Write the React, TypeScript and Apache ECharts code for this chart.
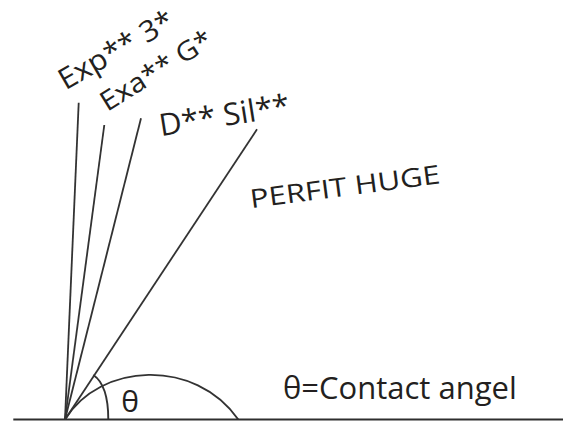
import React, { useEffect, useRef } from "react";
import * as echarts from "echarts";

// Coordinates are in a frame whose origin is the contact point (y up).
const ORIGIN: [number, number] = [0, 0];
const rayEnds: [number, number][] = [
  [13.7, 316.8],
  [39.3, 294.5],
  [76, 301.2],
  [192, 290.2],
];
const baseline: [number, number][] = [
  [-51.7, 0],
  [498, 0],
];
// cubic bezier control points: start, cp1, cp2, end
const dropletCurve: number[] = [0, 0, 35, 57, 130, 62, 173.3, 0];
const thetaArc: number[] = [43.3, 0, 43.3, 25, 38, 38, 28.3, 44.5];

const labelTexts = ["Exp** 3*", "Exa** G*", "D** Sil**", "PERFIT HUGE", "θ=Contact angel", "θ"];
const labelPos: [number, number][] = [
  [-5.2, 338.6],
  [36.8, 316.4],
  [94.2, 295.2],
  [185, 221.5],
  [218, 33],
  [65, 19.5],
];

// styles
const labelRot = [30, 32, 9, 7.5, 0, 0];
const labelSize = [29, 27, 31, 26, 31, 30];
const labelScaleX = [1.06, 1.1, 1, 1.2, 1, 1];
const labelAlign = ["left", "left", "left", "left", "left", "center"];
const TEXT_COLOR = "#231f20";
const LINE_COLOR = "#333333";
const FONT = "'Open Sans', 'Noto Sans', sans-serif";

export default function App() {
  const ref = useRef<HTMLDivElement>(null);
  useEffect(() => {
    if (!ref.current) return;
    const chart = echarts.init(ref.current, undefined, { renderer: "svg" });
    const rays = rayEnds.map((end, i) => ({
      type: "line",
      name: "ray" + i,
      data: [ORIGIN, end],
      symbol: "none",
      silent: true,
      lineStyle: { color: LINE_COLOR, width: 1.8 },
    }));
    chart.setOption({
      animation: false,
      backgroundColor: "#ffffff",
      grid: { left: 0, right: 0, top: 0, bottom: 0 },
      xAxis: { type: "value", min: -65, max: 498, show: false },
      yAxis: { type: "value", min: -1.5, max: 419.5, show: false },
      series: [
        {
          type: "line",
          name: "baseline",
          data: baseline,
          symbol: "none",
          silent: true,
          lineStyle: { color: "#2e2e2e", width: 2.2 },
        },
        ...rays,
        {
          type: "custom",
          name: "curves",
          silent: true,
          clip: false,
          data: [dropletCurve, thetaArc],
          renderItem: (params: any, api: any) => {
            const p0 = api.coord([api.value(0), api.value(1)]);
            const c1 = api.coord([api.value(2), api.value(3)]);
            const c2 = api.coord([api.value(4), api.value(5)]);
            const p1 = api.coord([api.value(6), api.value(7)]);
            return {
              type: "bezierCurve",
              shape: {
                x1: p0[0], y1: p0[1],
                cpx1: c1[0], cpy1: c1[1],
                cpx2: c2[0], cpy2: c2[1],
                x2: p1[0], y2: p1[1],
              },
              style: { stroke: LINE_COLOR, lineWidth: 1.9, fill: "none" },
            };
          },
        },
        {
          type: "custom",
          name: "labels",
          silent: true,
          clip: false,
          data: labelPos.map((p, i) => ({ value: p, name: labelTexts[i] })),
          renderItem: (params: any, api: any) => {
            const i = params.dataIndex;
            const pt = api.coord([api.value(0), api.value(1)]);
            return {
              type: "text",
              x: pt[0],
              y: pt[1],
              rotation: (labelRot[i] * Math.PI) / 180,
              scaleX: labelScaleX[i],
              style: {
                text: labelTexts[i],
                fontSize: labelSize[i],
                fontFamily: FONT,
                fill: TEXT_COLOR,
                align: labelAlign[i],
                verticalAlign: "middle",
                textAlign: labelAlign[i],
                textVerticalAlign: "middle",
              },
            };
          },
        },
      ],
    });
    return () => chart.dispose();
  }, []);
  return (
    <div
      ref={ref}
      style={{ position: "fixed", left: 0, top: 0, width: 563, height: 421, background: "#fff" }}
    />
  );
}
